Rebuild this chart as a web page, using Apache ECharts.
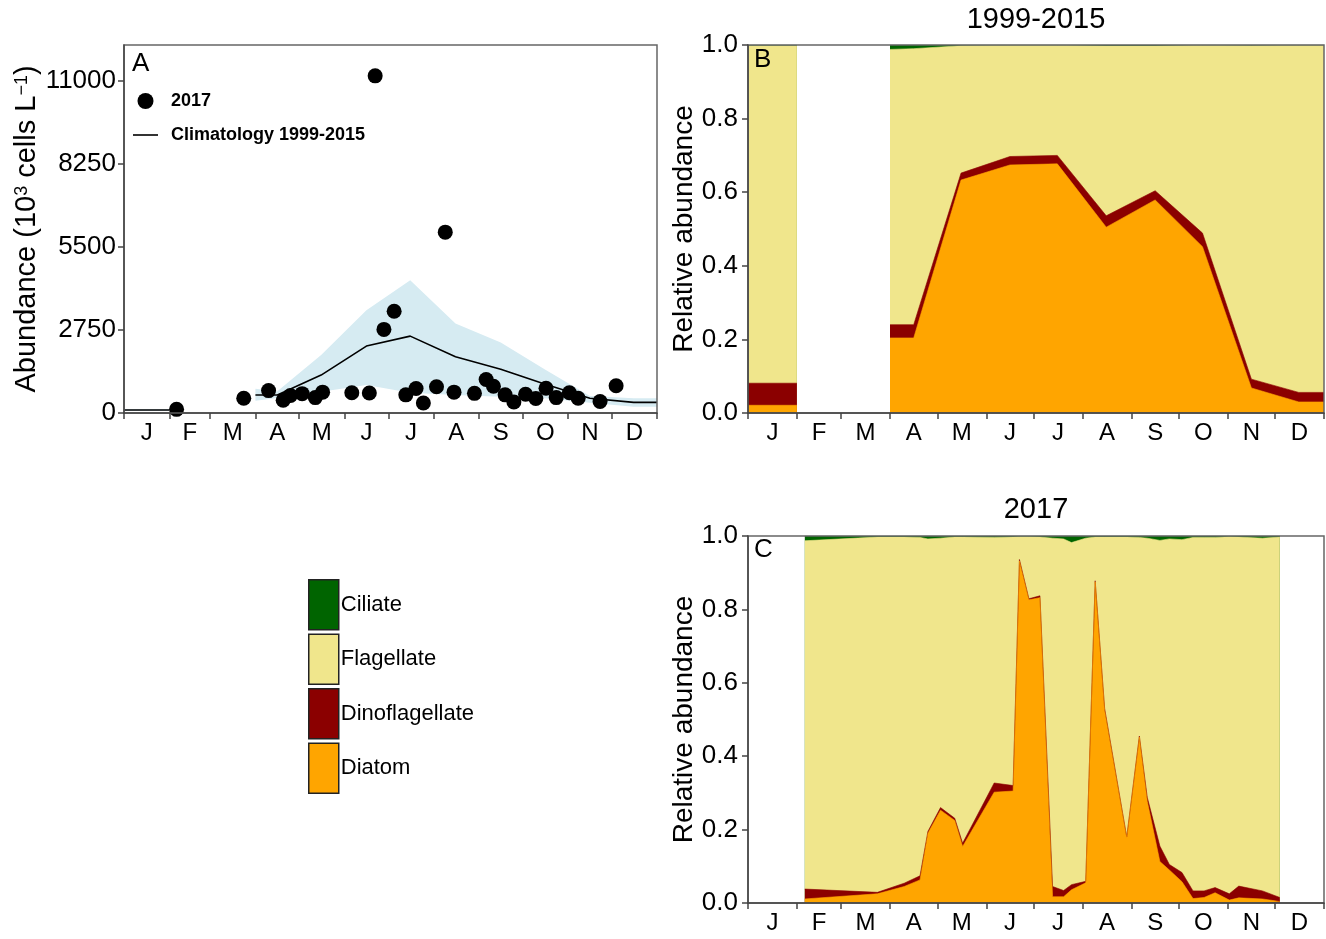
<!DOCTYPE html>
<html><head><meta charset="utf-8">
<script src="https://cdn.jsdelivr.net/npm/echarts@6/dist/echarts.min.js"></script>
<style>html,body{margin:0;padding:0;background:#fff}#c{width:1326px;height:939px}</style>
</head><body><div id="c"></div>
<script>
// ---------- axes / ticks ----------
const monthLetters = ['J','F','M','A','M','J','J','A','S','O','N','D'];
const monthStarts = [0,31,59,90,120,151,181,212,243,273,304,334,365];
const monthMids = [15.5,45,74.5,105,135.5,166,196.5,227.5,258,288.5,319,349.5];
const abundanceTicks = [0,2750,5500,8250,11000];

// ---------- Panel A: 2017 samples (day of year, 10^3 cells/L) ----------
const sampleDays2017 = [36,82,99,109,114,122,131,136,156,168,172,178,185,193,200,205,214,220,226,240,248,253,261,267,275,282,289,296,305,311,326,337];
const abundance2017 = [120,490,740,420,580,640,510,690,670,660,11150,2765,3365,600,810,330,870,5980,690,650,1110,885,600,365,620,480,820,510,670,490,380,900];

// ---------- Panel A: climatology 1999-2015 ----------
const climDays  = [0,31,60,90,105,135,166,196,227,258,288,319,349,365];
const climMean  = [100,100,null,595,595,1255,2213,2543,1860,1450,960,490,350,350];
const climLower = [70,70,null,406,495,704,925,671,595,540,485,340,209,209];
const climUpper = [130,130,null,800,720,1915,3400,4393,2960,2330,1450,561,485,485];

// ---------- Panel B: relative abundance 1999-2015 ----------
const climDiatom     = [0.021,0.021,null,0.204,0.204,0.633,0.674,0.677,0.505,0.579,0.452,0.068,0.030,0.030];
const climDino       = [0.060,0.060,null,0.036,0.036,0.019,0.023,0.023,0.031,0.025,0.037,0.024,0.026,0.026];
const climFlagellate = [0.917,0.917,null,0.748,0.750,0.346,0.302,0.299,0.461,0.393,0.510,0.906,0.943,0.943];
const climCiliate    = [0.002,0.002,null,0.012,0.010,0.002,0.001,0.001,0.003,0.003,0.001,0.002,0.001,0.001];

// ---------- Panel C: relative abundance 2017 ----------
const diatom2017     = [0.011,0.025,0.045,0.063,0.190,0.253,0.225,0.154,0.302,0.305,0.932,0.826,0.832,0.017,0.017,0.036,0.055,0.875,0.525,0.177,0.452,0.277,0.113,0.090,0.058,0.012,0.015,0.028,0.008,0.014,0.011,0.004];
const dino2017       = [0.027,0.004,0.009,0.011,0.005,0.007,0.006,0.009,0.025,0.015,0.004,0.003,0.005,0.028,0.017,0.014,0.004,0.003,0.005,0.003,0.003,0.011,0.042,0.015,0.025,0.021,0.018,0.014,0.017,0.032,0.022,0.011];
const flagellate2017 = [0.949,0.968,0.943,0.922,0.797,0.734,0.766,0.834,0.669,0.677,0.062,0.169,0.160,0.949,0.958,0.932,0.935,0.119,0.467,0.817,0.541,0.706,0.833,0.887,0.907,0.963,0.963,0.954,0.973,0.951,0.961,0.982];
const ciliate2017    = [0.013,0.003,0.003,0.004,0.008,0.006,0.003,0.003,0.004,0.003,0.002,0.002,0.003,0.006,0.008,0.018,0.006,0.003,0.003,0.003,0.004,0.006,0.012,0.008,0.010,0.004,0.004,0.004,0.002,0.003,0.006,0.003];

const groupNames = ['Ciliate','Flagellate','Dinoflagellate','Diatom'];
const groupColors = {Ciliate:'#006400', Flagellate:'#F0E68C', Dinoflagellate:'#8B0000', Diatom:'#FFA500'};

const FONT = 'Liberation Sans, Arial, Helvetica, sans-serif';
const AX = '#444';

function pairs(xs, ys){ return xs.map((x,i)=>[x, ys[i]]); }

// cumulative tops of stacked layers (bottom -> top)
function cumulate(layers){
  const out = []; let run = null;
  layers.forEach((arr, k)=>{
    run = arr.map((v,i)=>{
      const prev = k===0 ? 0 : run[i];
      return (v==null || prev==null) ? null : +(prev + v).toFixed(4);
    });
    out.push(run);
  });
  return out;
}

function monthAxis(gridIndex){
  return {
    type:'value', gridIndex, min:0, max:365, z:10,
    axisLine:{show:true, onZero:false, lineStyle:{color:AX, width:1.5}},
    axisTick:{show:true, customValues:monthStarts, length:6, lineStyle:{color:AX, width:1.5}},
    axisLabel:{customValues:monthMids, formatter:v=>monthLetters[monthMids.indexOf(v)]||'', fontSize:24, color:'#000', margin:8, fontFamily:FONT},
    splitLine:{show:false}
  };
}
function relAxis(gridIndex){
  return {
    type:'value', gridIndex, min:0, max:1, interval:0.2, z:10,
    axisLine:{show:true, onZero:false, lineStyle:{color:AX, width:1.5}},
    axisTick:{show:true, length:6, lineStyle:{color:AX, width:1.5}},
    axisLabel:{formatter:v=>v.toFixed(1), fontSize:26, color:'#000', margin:10, fontFamily:FONT},
    splitLine:{show:false},
    name:'Relative abundance', nameLocation:'middle', nameGap:50,
    nameTextStyle:{fontSize:28, color:'#000', fontFamily:FONT}
  };
}
// draw stacked composition as overlapping areas (top layer first)
function layerSeries(xi, xs, layers){
  const cum = cumulate([layers.Diatom, layers.Dinoflagellate, layers.Flagellate, layers.Ciliate]);
  const order = [['Ciliate',cum[3]],['Flagellate',cum[2]],['Dinoflagellate',cum[1]],['Diatom',cum[0]]];
  return order.map(([n, tops])=>({
    name:n, type:'line', xAxisIndex:xi, yAxisIndex:xi,
    data:pairs(xs, tops), symbol:'none', connectNulls:false,
    color:groupColors[n],
    lineStyle:{width:0.6, color:groupColors[n]},
    areaStyle:{color:groupColors[n], opacity:1},
    itemStyle:{color:groupColors[n]},
    silent:true, z:2
  }));
}

// band segments (split at gaps)
const bandSegments = [];
(function(){
  let s = null;
  climDays.forEach((d,i)=>{
    const ok = climUpper[i]!=null && climLower[i]!=null;
    if (ok && s===null) s = i;
    if ((!ok || i===climDays.length-1) && s!==null){
      bandSegments.push([s, ok ? i : i-1]); s = null;
    }
  });
})();

const gridBox = {show:true, borderColor:'#666', borderWidth:1.5, backgroundColor:'transparent', z:10};

const option = {
  animation:false,
  textStyle:{fontFamily:FONT},
  title:[
    {text:'1999-2015', left:1036, textAlign:'center', top:5, padding:0, textStyle:{fontSize:29, fontWeight:'normal', color:'#000', fontFamily:FONT}},
    {text:'2017', left:1036, textAlign:'center', top:495, padding:0, textStyle:{fontSize:29, fontWeight:'normal', color:'#000', fontFamily:FONT}},
    {text:'A', left:132, top:51, padding:0, textStyle:{fontSize:26, fontWeight:'normal', color:'#000', fontFamily:FONT}},
    {text:'B', left:754, top:47, padding:0, textStyle:{fontSize:26, fontWeight:'normal', color:'#000', fontFamily:FONT}},
    {text:'C', left:754, top:537, padding:0, textStyle:{fontSize:26, fontWeight:'normal', color:'#000', fontFamily:FONT}}
  ],
  legend:[
    {orient:'vertical', left:133, top:92, padding:0, itemWidth:25, itemHeight:16, itemGap:16, selectedMode:false,
     data:[{name:'2017', icon:'circle'}, {name:'Climatology 1999-2015', icon:'path://M0,0 H25 V1.6 H0 Z'}],
     itemStyle:{opacity:1},
     textStyle:{fontSize:18, fontWeight:'bold', color:'#000', fontFamily:FONT, padding:[0,0,0,8]}},
    {orient:'vertical', left:308, top:579, padding:0, itemWidth:30, itemHeight:50, itemGap:3, selectedMode:false,
     icon:'rect', data:groupNames,
     itemStyle:{borderColor:'#222', borderWidth:1.5},
     textStyle:{fontSize:22, color:'#000', fontFamily:FONT, padding:[0,0,0,-3]}}
  ],
  grid:[
    Object.assign({left:124, top:45, width:533, height:368}, gridBox),
    Object.assign({left:748, top:45, width:576, height:368}, gridBox),
    Object.assign({left:748, top:536, width:576, height:367}, gridBox)
  ],
  xAxis:[monthAxis(0), monthAxis(1), monthAxis(2)],
  yAxis:[
    {type:'value', gridIndex:0, min:0, max:12170, z:10,
     axisLine:{show:true, onZero:false, lineStyle:{color:AX, width:1.5}},
     axisTick:{show:true, customValues:abundanceTicks, length:6, lineStyle:{color:AX, width:1.5}},
     axisLabel:{customValues:abundanceTicks, formatter:v=>String(v), fontSize:26, color:'#000', margin:8, fontFamily:FONT},
     splitLine:{show:false},
     name:'{a|Abundance (10}{s|3}{a| cells L}{s|\u22121}{a|)}', nameLocation:'middle', nameGap:77,
     nameTextStyle:{rich:{a:{fontSize:29, color:'#000', fontFamily:FONT}, s:{fontSize:18, color:'#000', verticalAlign:'top', fontFamily:FONT}}}},
    relAxis(1), relAxis(2)
  ],
  series:[
    {name:'bandRange', type:'custom', coordinateSystem:'cartesian2d', xAxisIndex:0, yAxisIndex:0,
     data:bandSegments, encode:{x:-1, y:-1}, silent:true, z:1,
     renderItem:function(params, api){
       const s = api.value(0), e = api.value(1);
       const pts = [];
       for (let k=s; k<=e; k++) pts.push(api.coord([climDays[k], climUpper[k]]));
       for (let k=e; k>=s; k--) pts.push(api.coord([climDays[k], climLower[k]]));
       return {type:'polygon', shape:{points:pts}, style:{fill:'#D6EBF2', stroke:null}};
     }},
    {name:'Climatology 1999-2015', type:'line', xAxisIndex:0, yAxisIndex:0, data:pairs(climDays, climMean),
     symbol:'none', connectNulls:false, color:'#000', lineStyle:{color:'#000', width:1.6}, itemStyle:{color:'#000'}, z:3},
    {name:'2017', type:'scatter', xAxisIndex:0, yAxisIndex:0, data:pairs(sampleDays2017, abundance2017),
     symbol:'circle', symbolSize:15, color:'#000', itemStyle:{color:'#000', opacity:1}, z:5}
  ]
  .concat(layerSeries(1, climDays, {Diatom:climDiatom, Dinoflagellate:climDino, Flagellate:climFlagellate, Ciliate:climCiliate}))
  .concat(layerSeries(2, sampleDays2017, {Diatom:diatom2017, Dinoflagellate:dino2017, Flagellate:flagellate2017, Ciliate:ciliate2017}))
};

const chart = echarts.init(document.getElementById('c'), null, {renderer:'canvas'});
chart.setOption(option);
</script>
</body></html>
